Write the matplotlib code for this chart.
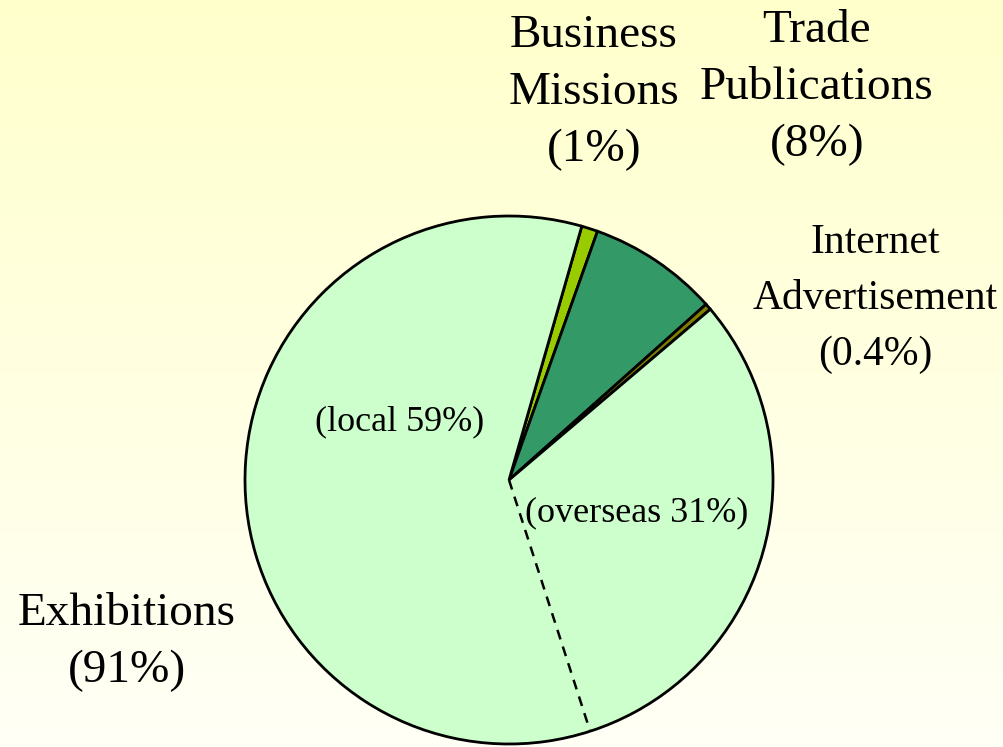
import numpy as np
import matplotlib
matplotlib.use("Agg")
import matplotlib.pyplot as plt

# data
channels = ["Business Missions", "Trade Publications", "Internet Advertisement", "Exhibitions"]
shares = [1, 8, 0.4, 91]
exhibition_split = {"overseas": 31, "local": 59}
colors = ["#99CC00", "#339966", "#808000", "#CCFFCC"]

W, H = 1004, 747
plt.rcParams["font.family"] = ["Liberation Serif", "DejaVu Serif"]

fig = plt.figure(figsize=(W / 100, H / 100), dpi=100)
ax = fig.add_axes([0, 0, 1, 1])

# background gradient (yellow at top to cream at bottom)
top = np.array([255, 255, 204]) / 255
bot = np.array([255, 255, 246]) / 255
t = np.linspace(0, 1, 256)[:, None]
grad = top * (1 - t) + bot * t
ax.imshow(grad[:, None, :], extent=[0, W, 0, H], aspect="auto", zorder=0)

cx, cy, r = 509, H - 480, 264
start = 74
wedges, _ = ax.pie(shares, colors=colors, startangle=start, counterclock=False,
                   center=(cx, cy), radius=r, frame=True,
                   wedgeprops=dict(edgecolor="black", linewidth=2))
for w in wedges:
    w.set_zorder(2)
ax.set_xlim(0, W)
ax.set_ylim(0, H)
ax.axis("off")

# dashed split between overseas and local exhibitions
total = sum(shares)
end_internet = start - 360 * sum(shares[:3]) / total
ex_frac = exhibition_split["overseas"] / sum(exhibition_split.values())
split_ang = np.radians(end_internet - 360 * shares[3] / total * ex_frac)
ax.plot([cx, cx + r * np.cos(split_ang)], [cy, cy + r * np.sin(split_ang)],
        color="black", lw=1.8, ls=(0, (4, 3)), zorder=3)

big = 34
ax.text(594, H - 93, "Business\nMissions\n(1%)", ha="center", va="center",
        fontsize=big, linespacing=1.45, zorder=4)
ax.text(817, H - 88, "Trade\nPublications\n(8%)", ha="center", va="center",
        fontsize=big, linespacing=1.45, zorder=4)
ax.text(875, H - 299, "Internet\nAdvertisement\n(0.4%)", ha="center", va="center",
        fontsize=30, linespacing=1.6, zorder=4)
ax.text(127, H - 642, "Exhibitions\n(91%)", ha="center", va="center",
        fontsize=big, linespacing=1.45, zorder=4)
ax.text(400, H - 422, "(local %d%%)" % exhibition_split["local"], ha="center",
        va="center", fontsize=26, zorder=4)
ax.text(637, H - 513, "(overseas %d%%)" % exhibition_split["overseas"], ha="center",
        va="center", fontsize=26, zorder=4)

fig.savefig("out.png", dpi=100)
